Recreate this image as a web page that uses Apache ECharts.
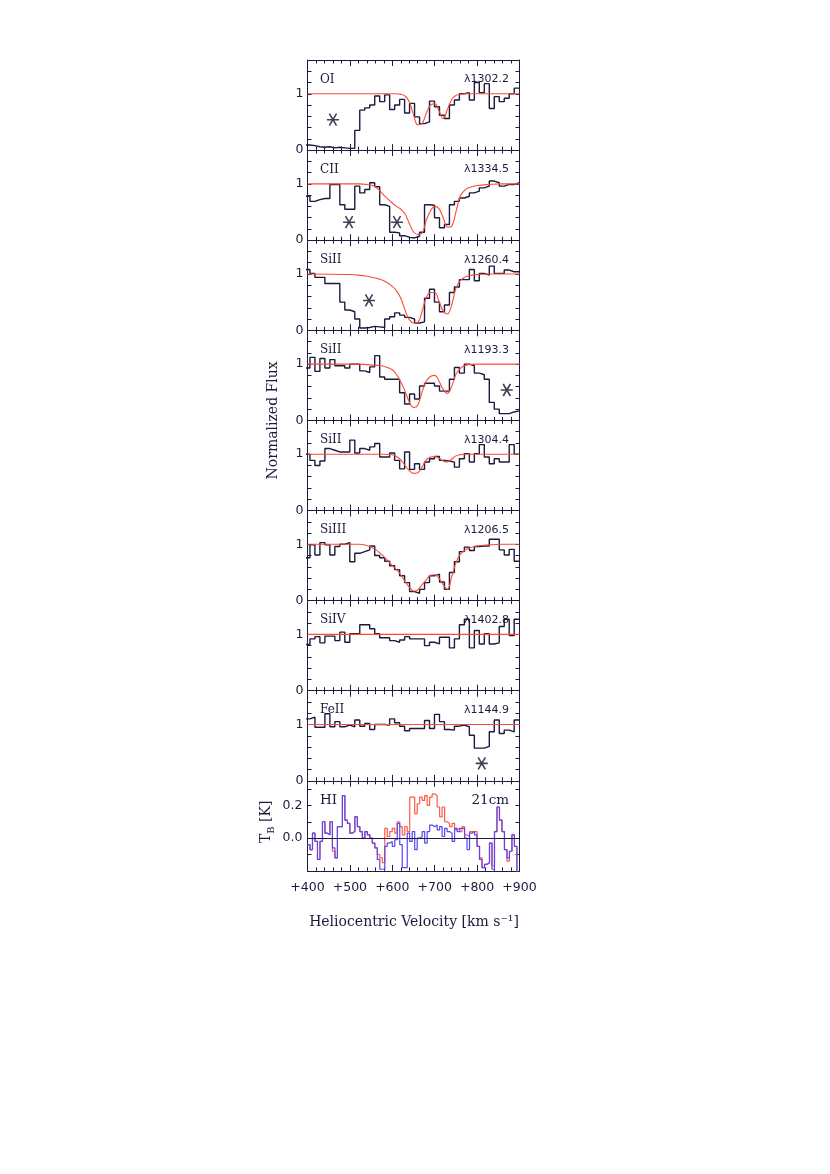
<!DOCTYPE html>
<html><head><meta charset="utf-8">
<script src="https://cdn.jsdelivr.net/npm/echarts@6/dist/echarts.min.js"></script>
<style>html,body{margin:0;padding:0;background:#fff}#c{width:830px;height:1174px}</style>
</head><body><div id="c"></div>
<script>
// ---------- DATA ----------
const ION_LABELS  = ['OI','CII','SiII','SiII','SiII','SiIII','SiIV','FeII','HI'];
const LINE_LABELS = ['λ1302.2','λ1334.5','λ1260.4','λ1193.3','λ1304.4','λ1206.5','λ1402.8','λ1144.9','21cm'];
const X_TITLE = 'Heliocentric Velocity [km s⁻¹]';
const Y_TITLE = 'Normalized Flux';

// UV spectra: bins start at UV_V0, width UV_DV (km/s)
const UV_V0 = 394, UV_DV = 11.75;
const OI = [0.09,0.08,0.06,0.05,0.06,0.04,0.05,0.04,0.03,0.03,0.35,0.71,0.75,0.8,0.96,0.86,0.98,0.72,0.8,0.9,0.66,0.83,0.59,0.47,0.5,0.87,0.77,0.62,0.56,0.8,0.89,1.0,1.02,0.89,1.2,1.02,1.18,0.74,0.95,0.86,0.92,1.0,1.1];
const CII = [0.78,0.69,0.72,0.74,0.74,0.99,0.99,0.63,0.55,0.55,0.96,0.84,0.9,1.02,0.95,0.63,0.6,0.14,0.13,0.08,0.05,0.04,0.07,0.14,0.63,0.62,0.4,0.22,0.28,0.63,0.69,0.75,0.78,0.84,0.87,0.93,0.96,1.05,1.02,0.96,0.99,0.99,1.02];
const SIII_1260 = [1.08,1.01,0.94,0.94,0.83,0.83,0.83,0.5,0.36,0.33,0.2,0.04,0.05,0.07,0.06,0.05,0.2,0.24,0.31,0.27,0.23,0.2,0.13,0.15,0.57,0.73,0.5,0.33,0.45,0.67,0.77,0.9,0.9,1.08,0.88,1.01,0.98,1.14,1.01,1.01,1.07,1.04,1.04];
const SIII_1193 = [0.93,1.12,0.87,1.1,0.93,1.08,0.97,0.97,0.93,1.0,1.0,0.88,0.85,0.95,1.15,0.77,0.73,0.73,0.73,0.49,0.29,0.47,0.38,0.61,0.66,0.66,0.61,0.52,0.52,0.73,0.94,0.84,1.0,0.97,0.84,0.81,0.73,0.32,0.2,0.12,0.12,0.15,0.17];
const SIII_1304 = [1.0,0.89,0.8,0.88,1.1,1.07,1.04,1.04,1.04,1.25,1.02,1.1,1.07,1.13,1.19,0.95,0.95,1.02,0.89,0.74,1.04,0.73,0.83,0.73,0.86,0.92,0.96,0.89,0.88,0.86,0.77,0.92,1.01,0.86,1.01,1.17,0.95,0.83,0.92,0.86,0.86,1.17,1.0];
const SIIII = [0.76,0.99,0.81,1.03,0.99,0.81,0.96,1.0,1.03,0.69,0.84,0.87,0.9,0.97,0.8,0.76,0.7,0.62,0.55,0.44,0.32,0.16,0.13,0.2,0.32,0.44,0.47,0.33,0.2,0.5,0.69,0.87,0.95,0.89,0.96,0.97,0.97,1.09,1.09,0.9,0.81,0.91,0.7];
const SIIV = [0.82,0.92,0.96,0.85,0.97,0.97,0.89,1.04,0.86,1.01,1.01,1.17,1.17,1.1,1.01,0.94,0.94,0.89,0.86,0.9,0.96,0.92,0.92,0.92,0.8,0.86,0.83,0.95,0.95,0.76,0.92,1.17,1.27,0.76,1.07,0.83,1.01,0.83,0.85,1.14,1.27,0.98,1.27];
const FEII = [1.1,1.13,0.95,0.95,1.19,0.96,1.05,0.96,0.99,0.96,1.08,0.97,1.02,0.91,1.0,1.0,0.99,1.1,1.03,0.97,0.89,0.93,0.93,0.93,1.07,0.93,1.18,1.05,0.91,0.9,0.97,0.99,0.96,0.81,0.58,0.58,0.61,0.87,1.08,0.84,0.9,0.87,1.08];

// Model fits (red), sampled at MODEL_V
const MODEL_V = [400,500,520,540,560,580,600,610,620,630,640,650,660,670,680,690,700,710,720,730,740,750,760,770,780,800,830,860,900];
const OI_MODEL   = [1,1,1,1,1,1,1,1,0.99,0.96,0.86,0.63,0.45,0.47,0.65,0.8,0.82,0.7,0.56,0.72,0.9,0.97,0.99,1,1,1,1,1,1];
const CII_MODEL  = [1,1,1,0.99,0.95,0.8,0.66,0.6,0.55,0.47,0.3,0.15,0.1,0.12,0.35,0.52,0.6,0.56,0.4,0.23,0.25,0.5,0.78,0.88,0.93,0.97,0.99,1,1];
const SIII_1260_MODEL = [1,0.99,0.98,0.96,0.93,0.88,0.78,0.7,0.57,0.36,0.19,0.13,0.14,0.33,0.58,0.67,0.67,0.52,0.34,0.29,0.45,0.75,0.88,0.94,0.97,0.99,1,1,1];
const SIII_1193_MODEL = [1,1,1,0.99,0.98,0.96,0.9,0.81,0.68,0.52,0.33,0.23,0.27,0.5,0.7,0.78,0.8,0.7,0.55,0.48,0.6,0.82,0.92,0.97,0.99,1,1,1,1];
const SIII_1304_MODEL = [1,1,1,1,1,1,0.99,0.96,0.9,0.8,0.71,0.66,0.67,0.77,0.9,0.95,0.96,0.93,0.88,0.86,0.91,0.97,0.99,1,1,1,1,1,1];
const SIIII_MODEL = [1,1,1,0.98,0.91,0.78,0.62,0.55,0.46,0.34,0.24,0.17,0.19,0.28,0.37,0.45,0.46,0.4,0.28,0.2,0.42,0.67,0.82,0.89,0.93,0.97,0.99,1,1];
const FLAT_V = [400,900];
const SIIV_MODEL = [1,1];
const FEII_MODEL = [1,1];

// Contaminating-feature markers
const STAR_PANEL = [0,1,1,2,3,7];
const STAR_V     = [460,498,611,545,870,811];
const STAR_F     = [0.54,0.32,0.32,0.53,0.54,0.31];

// HI 21cm spectra (T_B, K), bins start at HI_V0, width HI_DV
const HI_V0 = 400, HI_DV = 5.88;
const HI_BLUE = [-0.04,-0.07,0.03,-0.02,-0.13,-0.02,0.10,0.03,0.02,0.10,
 -0.06,-0.12,0.07,0.07,0.26,0.11,0.09,0.03,0.04,0.13,
 0.07,0.04,0.00,0.04,0.02,0.00,-0.03,-0.06,-0.13,-0.19,
 -0.19,-0.05,-0.03,-0.02,-0.05,-0.01,0.09,-0.04,-0.18,-0.18,
 0.03,-0.02,0.04,-0.07,0.00,0.01,0.04,-0.03,0.04,0.08,
 0.07,0.08,0.05,0.07,0.01,0.06,0.04,0.03,-0.02,0.06,
 0.04,0.06,0.06,0.00,-0.07,0.03,0.04,0.02,-0.05,-0.13,
 -0.18,-0.16,-0.15,-0.03,-0.19,0.04,0.19,0.11,0.04,-0.07,
 -0.12,-0.08,0.02,-0.05,-0.25];
const HI_RED = [-0.04,-0.07,0.03,-0.02,-0.13,-0.02,0.10,0.03,0.02,0.10,
 -0.08,-0.12,0.07,0.07,0.26,0.11,0.09,0.03,0.04,0.13,
 0.07,0.04,0.00,0.04,0.02,0.00,-0.03,-0.06,-0.10,-0.12,
 -0.15,0.06,0.01,0.04,0.06,0.03,0.10,0.07,0.02,0.07,
 0.04,0.25,0.25,0.15,0.21,0.25,0.23,0.26,0.20,0.25,
 0.27,0.26,0.19,0.13,0.19,0.10,0.09,0.07,0.09,0.05,
 0.06,0.04,0.07,0.02,0.01,0.04,0.04,0.04,-0.05,-0.12,
 -0.18,-0.16,-0.15,-0.03,-0.17,0.04,0.19,0.11,0.04,-0.07,
 -0.14,-0.08,0.02,-0.05,-0.25];

// ---------- BUILD ----------
const INK = '#1b1b3d', RED = '#ff4a36', BLUE = '#5a46f2', HIRED = '#ff5a46';
const SANS = 'DejaVu Sans', SERIF = 'DejaVu Serif';
const G_LEFT = 307.5, G_W = 212, G_TOP = 60, G_H = 90.1;

const UV_SPECTRA = [OI, CII, SIII_1260, SIII_1193, SIII_1304, SIIII, SIIV, FEII];
const UV_MODELS  = [OI_MODEL, CII_MODEL, SIII_1260_MODEL, SIII_1193_MODEL, SIII_1304_MODEL, SIIII_MODEL, SIIV_MODEL, FEII_MODEL];
const UV_MODEL_V = [MODEL_V, MODEL_V, MODEL_V, MODEL_V, MODEL_V, MODEL_V, FLAT_V, FLAT_V];

function stepData(v0, dv, vals) {
  const d = vals.map((f, k) => [v0 + dv * k, f]);
  d.push([900, vals[vals.length - 1]]);
  return d;
}

const grids = [], xAxes = [], yAxes = [], series = [], graphics = [];
for (let i = 0; i < 9; i++) {
  const top = G_TOP + i * G_H;
  grids.push({left: G_LEFT, top: top, width: G_W, height: G_H});
  const isHI = i === 8;
  const xBase = {
    gridIndex: i, type: 'value', min: 400, max: 900, interval: 100,
    axisLine: {onZero: false, lineStyle: {color: INK, width: 1}},
    axisTick: {inside: true, length: 6, lineStyle: {color: INK, width: 1}},
    minorTick: {show: true, splitNumber: 5, length: 3.5, lineStyle: {color: INK, width: 1}},
    splitLine: {show: false}, minorSplitLine: {show: false}
  };
  xAxes.push(Object.assign({}, xBase, {position: 'bottom',
    axisLabel: {show: isHI, margin: 10, color: INK, fontSize: 12.5, fontFamily: SANS,
      formatter: v => '+' + v}}));
  xAxes.push(Object.assign({}, xBase, {position: 'top', axisLabel: {show: false}}));

  const yBase = isHI ? {min: -0.2, max: 0.35, interval: 0.1} : {min: 0, max: 1.6, interval: 0.2};
  const yCommon = Object.assign({
    gridIndex: i, type: 'value',
    axisLine: {show: true, onZero: false, lineStyle: {color: INK, width: 1}},
    axisTick: {show: true, inside: true, length: 4, lineStyle: {color: INK, width: 1}},
    splitLine: {show: false}
  }, yBase);
  yAxes.push(Object.assign({}, yCommon, {position: 'left',
    axisLabel: {show: true, margin: isHI ? 5 : 4, color: INK, fontSize: 12.5, fontFamily: SANS,
      formatter: isHI
        ? (v => Math.abs(v) < 1e-6 ? '0.0' : (Math.abs(v - 0.2) < 1e-6 ? '0.2' : ''))
        : (v => Math.abs(v) < 1e-6 ? '0' : (Math.abs(v - 1) < 1e-6 ? '1' : ''))}}));
  yAxes.push(Object.assign({}, yCommon, {position: 'right', axisLabel: {show: false}}));

  const xi = 2 * i, yi = 2 * i;
  if (!isHI) {
    series.push({type: 'line', xAxisIndex: xi, yAxisIndex: yi, step: 'end', symbol: 'none',
      data: stepData(UV_V0, UV_DV, UV_SPECTRA[i]), lineStyle: {color: INK, width: 1.4}, z: 3, silent: true});
    series.push({type: 'line', xAxisIndex: xi, yAxisIndex: yi, smooth: 0.4, symbol: 'none',
      data: UV_MODEL_V[i].map((v, k) => [v, UV_MODELS[i][k]]), lineStyle: {color: RED, width: 1.1}, z: 4, silent: true});
    const stars = [];
    STAR_PANEL.forEach((p, k) => { if (p === i) stars.push([STAR_V[k], STAR_F[k]]); });
    if (stars.length) {
      series.push({type: 'scatter', xAxisIndex: xi, yAxisIndex: yi, data: stars,
        symbol: 'path://M-10,0L10,0M-6,-10L6,10M-6,10L6,-10', symbolSize: [12, 12],
        itemStyle: {color: 'rgba(0,0,0,0)', borderColor: '#10102a', borderWidth: 1.6}, z: 5, silent: true});
    }
  } else {
    series.push({type: 'line', xAxisIndex: xi, yAxisIndex: yi, step: 'end', symbol: 'none',
      data: stepData(HI_V0, HI_DV, HI_RED), lineStyle: {color: HIRED, width: 1.2}, z: 3, silent: true});
    series.push({type: 'line', xAxisIndex: xi, yAxisIndex: yi, step: 'end', symbol: 'none',
      data: stepData(HI_V0, HI_DV, HI_BLUE), lineStyle: {color: BLUE, width: 1.2}, z: 4, silent: true,
      markLine: {silent: true, symbol: ['none', 'none'], label: {show: false},
        lineStyle: {color: INK, width: 1.2, type: 'solid'}, data: [{yAxis: 0}]}});
  }

  graphics.push({type: 'text', x: 320, y: top + 19.5, z: 10,
    style: {text: ION_LABELS[i], fill: INK, fontSize: isHI ? 13.5 : 12, fontFamily: SERIF,
      align: 'left', verticalAlign: 'middle', textAlign: 'left', textVerticalAlign: 'middle'}});
  graphics.push({type: 'text', x: 509, y: top + 19.5, z: 10,
    style: {text: LINE_LABELS[i], fill: INK, fontSize: isHI ? 13.5 : 11, fontFamily: isHI ? SERIF : SANS,
      align: 'right', verticalAlign: 'middle', textAlign: 'right', textVerticalAlign: 'middle'}});
}

graphics.push({type: 'text', x: 414, y: 922, z: 10,
  style: {text: X_TITLE, fill: INK, fontSize: 14, fontFamily: SERIF,
    align: 'center', verticalAlign: 'middle', textAlign: 'center', textVerticalAlign: 'middle'}});
graphics.push({type: 'text', x: 273.5, y: G_TOP + 4 * G_H, rotation: Math.PI / 2, z: 10,
  style: {text: Y_TITLE, fill: INK, fontSize: 14, fontFamily: SERIF,
    align: 'center', verticalAlign: 'middle', textAlign: 'center', textVerticalAlign: 'middle'}});
graphics.push({type: 'text', x: 266, y: G_TOP + 8.5 * G_H - 4, rotation: Math.PI / 2, z: 10,
  style: {text: '{t|T}{s|B}{t| [K]}', fill: INK, fontFamily: SERIF,
    align: 'center', verticalAlign: 'middle', textAlign: 'center', textVerticalAlign: 'middle',
    rich: {t: {fontSize: 14, fontFamily: SERIF, fill: INK, lineHeight: 20},
           s: {fontSize: 10, fontFamily: SERIF, fill: INK, verticalAlign: 'bottom', lineHeight: 20}}}});

const chart = echarts.init(document.getElementById('c'), null, {renderer: 'canvas'});
chart.setOption({
  animation: false, backgroundColor: '#ffffff',
  grid: grids, xAxis: xAxes, yAxis: yAxes, series: series, graphic: graphics
});
</script></body></html>
